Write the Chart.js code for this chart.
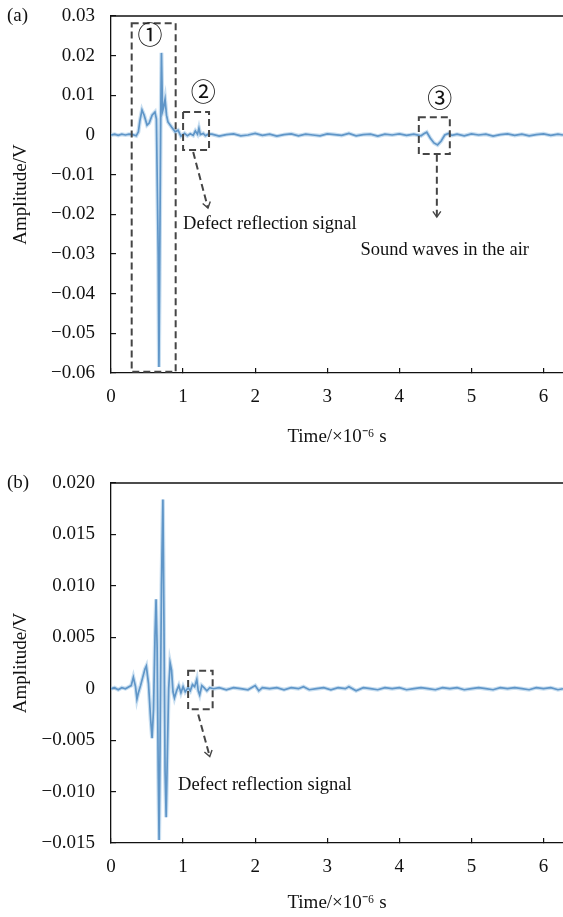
<!DOCTYPE html>
<html>
<head>
<meta charset="utf-8">
<title>Amplitude vs time - (a) and (b)</title>
<script src="https://cdn.jsdelivr.net/npm/chart.js@4.4.0/dist/chart.umd.min.js"></script>
<style>
  html, body { margin: 0; padding: 0; background: #fff; }
  #wrap { position: relative; width: 563px; height: 917px; overflow: hidden; }
  canvas { position: absolute; left: 0; }
</style>
</head>
<body>
<div id="wrap">
  <canvas id="chartA" width="563" height="460" style="top:0"></canvas>
  <canvas id="chartB" width="563" height="457" style="top:460px"></canvas>
</div>
<script>
// ---- data (time in 1e-6 s, amplitude in V) ----
const timeA = [
  0, 0.05, 0.1, 0.15, 0.2, 0.25, 0.3, 0.35, 0.38, 0.4, 0.43, 0.46, 0.5, 0.53, 0.57, 0.61, 0.63,
  0.655, 0.665, 0.675, 0.69, 0.7, 0.715, 0.73, 0.75, 0.77, 0.79, 0.84, 0.89, 0.93, 0.97,
  1.02, 1.06, 1.1, 1.14, 1.17, 1.2, 1.22, 1.24, 1.28, 1.31, 1.35,
  1.4, 1.5, 1.6, 1.7, 1.8, 1.9, 2.0, 2.1, 2.2, 2.3, 2.4, 2.5, 2.6, 2.7, 2.8, 2.9,
  3.0, 3.1, 3.2, 3.3, 3.4, 3.5, 3.6, 3.7, 3.8, 3.9, 4.0, 4.1, 4.2, 4.3,
  4.34, 4.38, 4.43, 4.48, 4.53, 4.58, 4.63, 4.68, 4.73, 4.8,
  4.9, 5.0, 5.1, 5.2, 5.3, 5.4, 5.5, 5.6, 5.7, 5.8, 5.9, 6.0, 6.1, 6.2, 6.27
];
const ampA = [
  0, 0.0002, -0.0001, 0.0002, 0.0000, 0.0002, 0.0001, -0.0002, 0.0008, 0.0035, 0.0063, 0.0050, 0.0025, 0.0030, 0.0050, 0.0058, 0.0040,
  -0.0300, -0.0585, -0.0350, 0.0050, 0.0207, 0.0060, 0.0070, 0.0090, 0.0050, 0.0033, 0.0020, 0.0008, 0.0012, -0.0003,
  0.0004, -0.0002, 0.0003, -0.0001, 0.0010, 0.0002, 0.0017, 0.0001, 0.0004, -0.0002, 0.0002,
  0.0002, -0.0003, 0.0001, 0.0003, -0.0002, 0.0000, 0.0004, -0.0001, 0.0002, -0.0003, 0.0001, 0.0003, -0.0002, 0.0002, 0.0000, -0.0002,
  0.0003, 0.0001, -0.0001, 0.0004, -0.0002, 0.0001, 0.0002, -0.0003, 0.0002, 0.0000, 0.0003, -0.0001, 0.0002, -0.0002,
  0.0003, 0.0007, -0.0008, -0.0020, -0.0025, -0.0015, 0.0000, 0.0004, -0.0001, 0.0002,
  -0.0002, 0.0003, 0.0000, 0.0002, -0.0003, 0.0001, 0.0003, -0.0001, 0.0002, -0.0002, 0.0001, 0.0003, -0.0001, 0.0002, 0.0000
];

const timeB = [
  0, 0.05, 0.1, 0.15, 0.2, 0.25, 0.28, 0.31, 0.34, 0.36, 0.38, 0.41, 0.44, 0.47, 0.49, 0.52, 0.55, 0.57, 0.59,
  0.61, 0.625, 0.64, 0.655, 0.667, 0.68, 0.7, 0.72, 0.735, 0.75, 0.765, 0.78, 0.8, 0.82, 0.84, 0.86, 0.88,
  0.91, 0.94, 0.97, 1.0, 1.03, 1.07, 1.1, 1.13, 1.16, 1.19, 1.21, 1.23, 1.26, 1.29, 1.33, 1.37, 1.42,
  1.5, 1.6, 1.7, 1.8, 1.9, 2.0, 2.05, 2.1, 2.2, 2.3, 2.4, 2.5, 2.6, 2.67, 2.75, 2.85, 2.95,
  3.05, 3.15, 3.25, 3.3, 3.4, 3.5, 3.6, 3.7, 3.8, 3.9, 4.0, 4.1, 4.2, 4.3, 4.4, 4.5, 4.6, 4.7, 4.8, 4.9,
  5.0, 5.1, 5.2, 5.3, 5.4, 5.5, 5.6, 5.7, 5.8, 5.9, 6.0, 6.1, 6.2, 6.27
];
const ampB = [
  0, 0.0001, -0.0001, 0.0001, 0.0000, 0.0002, 0.0003, 0.0011, 0.0002, -0.0010, -0.0004, 0.0003, 0.0011, 0.0019, 0.0022, 0.0005, -0.0030, -0.0048, -0.0020,
  0.0050, 0.0087, 0.0040, -0.0080, -0.0147, -0.0060, 0.0100, 0.0184, 0.0060, -0.0080, -0.0125, -0.0070, 0.0000, 0.0025, 0.0018, -0.0003, -0.0009,
  -0.0002, 0.0003, -0.0004, 0.0002, -0.0003, 0.0001, -0.0002, 0.0004, 0.0002, 0.0009, -0.0002, -0.0006, 0.0003, 0.0001, -0.0002, 0.0001, 0.0000,
  0.0001, -0.0001, 0.0001, 0.0000, -0.0001, 0.0003, -0.0002, 0.0001, 0.0000, 0.0001, -0.0001, 0.0001, 0.0000, 0.0002, -0.0001, 0.0000, 0.0001,
  -0.0001, 0.0001, 0.0000, 0.0002, -0.0002, 0.0001, 0.0000, -0.0001, 0.0001, 0.0000, 0.0001, -0.0001, 0.0000, 0.0001, 0.0000, -0.0001, 0.0001, 0.0000, 0.0001, -0.0001,
  0.0000, 0.0001, 0.0000, -0.0001, 0.0001, 0.0000, 0.0001, 0.0000, -0.0001, 0.0001, 0.0000, 0.0001, -0.0001, 0.0000
];

const xTicks = [0, 1, 2, 3, 4, 5, 6];
const yTicksA = [0.03, 0.02, 0.01, 0, -0.01, -0.02, -0.03, -0.04, -0.05, -0.06];
const yTicksB = [0.020, 0.015, 0.010, 0.005, 0, -0.005, -0.010, -0.015];

const X_TITLE = 'Time/\u00d710\u207b\u2076 s';
const Y_TITLE = 'Amplitude/V';
const SERIF = "'Liberation Serif', 'Times New Roman', serif";
const LINE_BLUE = 'rgb(96,150,200)';
const HALO_BLUE = 'rgba(165,202,232,0.6)';

// annotation marks, all in data units
const notesA = {
  panel: '(a)',
  boxes: [[0.287, 0.897, 0.0282, -0.0597], [1.0, 1.36, 0.0058, -0.0038], [4.27, 4.70, 0.0045, -0.0048]],
  circles: [['\u2460', 0.54, 0.0247], ['\u2461', 1.28, 0.0101], ['\u2462', 4.56, 0.0086]],
  arrows: [[1.14, -0.0043, 1.345, -0.0184], [4.52, -0.005, 4.52, -0.0207]],
  texts: [['Defect reflection signal', 1.0, -0.0224], ['Sound waves in the air', 3.46, -0.029]]
};
const notesB = {
  panel: '(b)',
  boxes: [[1.07, 1.41, 0.00175, -0.0020]],
  circles: [],
  arrows: [[1.21, -0.0025, 1.37, -0.0066]],
  texts: [['Defect reflection signal', 0.93, -0.0094]]
};

function fmtTick(decimals) {
  return (v) => {
    if (Math.abs(v) < 1e-9) return '0';
    const s = Math.abs(v).toFixed(decimals);
    return v < 0 ? '\u2212' + s : s;
  };
}

// dashed boxes, circled numbers, arrows, labels, top frame line
const notesPlugin = {
  id: 'notes',
  afterDraw(chart, args, opts) {
    const ctx = chart.ctx;
    const xs = chart.scales.x, ys = chart.scales.y;
    const area = chart.chartArea;
    const X = (v) => xs.getPixelForValue(v);
    const Y = (v) => ys.getPixelForValue(v);
    ctx.save();

    // top frame line
    ctx.strokeStyle = '#111';
    ctx.lineWidth = 1.3;
    ctx.beginPath();
    ctx.moveTo(area.left, area.top);
    ctx.lineTo(area.right, area.top);
    ctx.stroke();

    // panel letter
    ctx.fillStyle = '#111';
    ctx.font = '19px ' + SERIF;
    ctx.textAlign = 'left';
    ctx.textBaseline = 'middle';
    ctx.fillText(opts.panel, 7, area.top);

    ctx.strokeStyle = '#454545';
    ctx.lineWidth = 2;
    ctx.setLineDash([7, 4]);
    opts.boxes.forEach(([t0, t1, v0, v1]) => {
      ctx.strokeRect(X(t0), Y(v0), X(t1) - X(t0), Y(v1) - Y(v0));
    });

    opts.arrows.forEach(([t0, v0, t1, v1]) => {
      const x0 = X(t0), y0 = Y(v0), x1 = X(t1), y1 = Y(v1);
      ctx.setLineDash([7, 4]);
      ctx.beginPath();
      ctx.moveTo(x0, y0);
      ctx.lineTo(x1, y1);
      ctx.stroke();
      const a = Math.atan2(y1 - y0, x1 - x0);
      ctx.setLineDash([]);
      ctx.lineWidth = 1.4;
      ctx.beginPath();
      ctx.moveTo(x1 - 7 * Math.cos(a - 0.6), y1 - 7 * Math.sin(a - 0.6));
      ctx.lineTo(x1, y1);
      ctx.lineTo(x1 - 7 * Math.cos(a + 0.6), y1 - 7 * Math.sin(a + 0.6));
      ctx.stroke();
      ctx.lineWidth = 2;
    });
    ctx.setLineDash([]);

    ctx.fillStyle = '#111';
    ctx.textAlign = 'center';
    ctx.font = "25px 'Liberation Serif', 'Noto Sans CJK SC', serif";
    opts.circles.forEach(([s, t, v]) => ctx.fillText(s, X(t), Y(v)));

    ctx.textAlign = 'left';
    ctx.font = '18.5px ' + SERIF;
    opts.texts.forEach(([s, t, v]) => ctx.fillText(s, X(t), Y(v)));
    ctx.restore();
  }
};

function makeChart(id, times, amps, yTicks, decimals, notes, topPad, xAxisH, xTitlePad) {
  const pts = times.map((t, i) => ({ x: t, y: amps[i] }));
  return new Chart(document.getElementById(id), {
    type: 'line',
    data: {
      datasets: [
        { data: pts, borderColor: LINE_BLUE, borderWidth: 1.7, pointRadius: 0, tension: 0, order: 1 },
        { data: pts, borderColor: HALO_BLUE, borderWidth: 4, pointRadius: 0, tension: 0, order: 2 }
      ]
    },
    options: {
      responsive: false,
      animation: false,
      layout: { padding: { top: topPad, right: 0, left: 0, bottom: 0 } },
      plugins: { legend: { display: false }, tooltip: { enabled: false }, notes: notes },
      scales: {
        x: {
          type: 'linear',
          min: 0,
          max: 6.27,
          afterFit: (s) => { s.height = xAxisH; s.paddingLeft = 0; s.paddingRight = 0; },
          afterBuildTicks: (s) => { s.ticks = xTicks.map((v) => ({ value: v })); },
          border: { color: '#111', width: 1.3 },
          grid: { drawOnChartArea: false, drawTicks: true, tickLength: -5, color: '#111', lineWidth: 1.2 },
          ticks: { color: '#111', padding: 18, font: { family: SERIF, size: 19 }, maxRotation: 0,
                   callback: (v) => String(v) },
          title: { display: true, text: X_TITLE, color: '#111', font: { family: SERIF, size: 19 },
                   padding: { top: 0, bottom: xTitlePad } }
        },
        y: {
          type: 'linear',
          min: yTicks[yTicks.length - 1],
          max: yTicks[0],
          afterFit: (s) => { s.width = 111; s.paddingTop = 0; s.paddingBottom = 0; },
          afterBuildTicks: (s) => { s.ticks = yTicks.map((v) => ({ value: v })); },
          border: { color: '#111', width: 1.3 },
          grid: { drawOnChartArea: false, drawTicks: true, tickLength: -5, color: '#111', lineWidth: 1.2 },
          ticks: { color: '#111', padding: 21, font: { family: SERIF, size: 19 }, callback: fmtTick(decimals) },
          title: { display: true, text: Y_TITLE, color: '#111', font: { family: SERIF, size: 19 },
                   padding: { top: 10, bottom: 0 } }
        }
      }
    },
    plugins: [notesPlugin]
  });
}

makeChart('chartA', timeA, ampA, yTicksA, 2, notesA, 16, 87, 12);
makeChart('chartB', timeB, ampB, yTicksB, 3, notesB, 23, 74, 3);
</script>
</body>
</html>
